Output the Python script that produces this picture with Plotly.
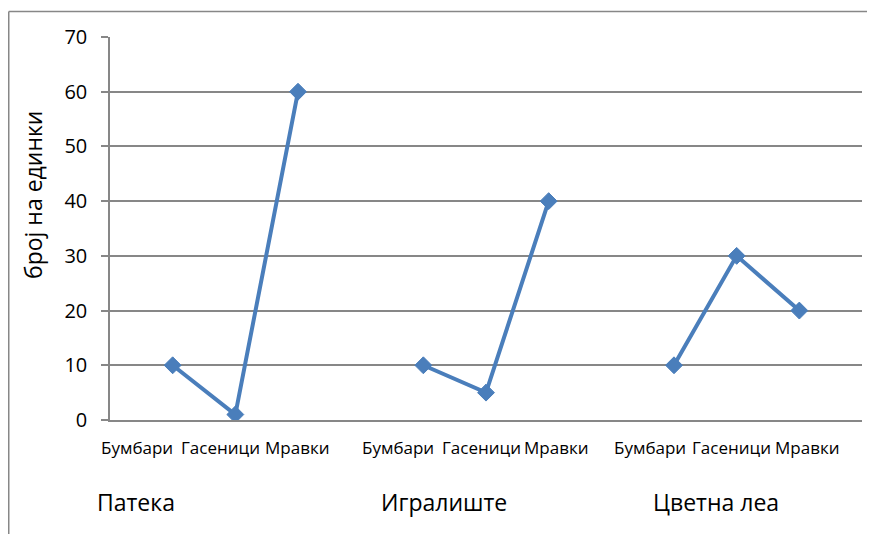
import plotly.graph_objects as go

# ---- data ----
groups = ["Патека", "Игралиште", "Цветна леа"]
subcats = ["Бумбари", "Гасеници", "Мравки"]
values_pateka = [10, 1, 60]
values_igraliste = [10, 5, 40]
values_cvetna = [10, 30, 20]
y_ticks = [0, 10, 20, 30, 40, 50, 60, 70]
y_title = "број на единки"

series = [values_pateka, values_igraliste, values_cvetna]

# category slots: each group takes 3 slots + 1 empty separator slot
xs, ys = [], []
for gi, vals in enumerate(series):
    for si, v in enumerate(vals):
        xs.append(gi * 4 + si + 1)
        ys.append(v)
    xs.append(None)
    ys.append(None)

BLUE = "#4A7EBB"
GRID = "#878787"
FONT = "Open Sans, Noto Sans, DejaVu Sans, sans-serif"

OFF = 8  # page body margin
W, H = 875, 534
# target screen pixels of plot area
SX0, SX1, SY0, SY1 = 110, 862, 37, 420
L = SX0 - OFF
T = SY0 - OFF
R = W - (SX1 - OFF)
B = H - (SY1 - OFF)
pw, ph = SX1 - SX0, SY1 - SY0

def px2paper_x(sx):
    return (sx - SX0) / pw

def px2paper_y(sy):
    return (SY1 - sy) / ph

fig = go.Figure()
fig.add_trace(go.Scatter(
    x=xs, y=ys, mode="lines+markers",
    line=dict(color=BLUE, width=4),
    marker=dict(symbol="diamond", size=13, color=BLUE, line=dict(color=BLUE, width=1)),
    connectgaps=False, hoverinfo="skip", showlegend=False,
))

annotations = []
sub_centres = [[137, 220, 297], [398, 481, 556], [650, 731, 807]]
for gi in range(len(groups)):
    for si, name in enumerate(subcats):
        annotations.append(dict(
            x=px2paper_x(sub_centres[gi][si]), y=px2paper_y(447),
            xref="paper", yref="paper", text=name, showarrow=False,
            xanchor="center", yanchor="middle",
            font=dict(family=FONT, size=17, color="#000000"),
        ))
group_centres = [135.5, 444, 715.5]
for gi, name in enumerate(groups):
    annotations.append(dict(
        x=px2paper_x(group_centres[gi]), y=px2paper_y(502),
        xref="paper", yref="paper", text=name, showarrow=False,
        xanchor="center", yanchor="middle",
        font=dict(family=FONT, size=23, color="#000000"),
    ))
annotations.append(dict(
    x=px2paper_x(33), y=px2paper_y(195), xref="paper", yref="paper",
    text=y_title, showarrow=False, textangle=-90,
    xanchor="center", yanchor="middle",
    font=dict(family=FONT, size=23, color="#000000"),
))

frame_left = px2paper_x(OFF + 0.75)
frame_top = px2paper_y(11.5)
fig.update_layout(
    width=W, height=H,
    margin=dict(l=L, r=R, t=T, b=B),
    paper_bgcolor="white", plot_bgcolor="white",
    font=dict(family=FONT, color="#000000"),
    xaxis=dict(range=[0, 12], showgrid=False, zeroline=False,
               showline=True, linecolor=GRID, linewidth=1.5,
               showticklabels=False, ticks="", fixedrange=True),
    yaxis=dict(range=[0, 70], tickvals=y_ticks, ticktext=[str(t) for t in y_ticks],
               showgrid=True, gridcolor=GRID, gridwidth=1.5,
               zeroline=False, showline=True, linecolor=GRID, linewidth=1.5,
               ticks="outside", ticklen=7, tickcolor=GRID, tickwidth=1.5,
               ticklabelstandoff=10,
               tickfont=dict(family=FONT, size=20, color="#000000")),
    annotations=annotations,
    shapes=[
        dict(type="line", xref="paper", yref="paper",
             x0=frame_left, x1=px2paper_x(900), y0=frame_top, y1=frame_top,
             line=dict(color=GRID, width=1.5), layer="below"),
        dict(type="line", xref="paper", yref="paper",
             x0=frame_left, x1=frame_left, y0=frame_top, y1=px2paper_y(600),
             line=dict(color=GRID, width=1.5), layer="below"),
    ],
)

fig.write_html("out.html")
